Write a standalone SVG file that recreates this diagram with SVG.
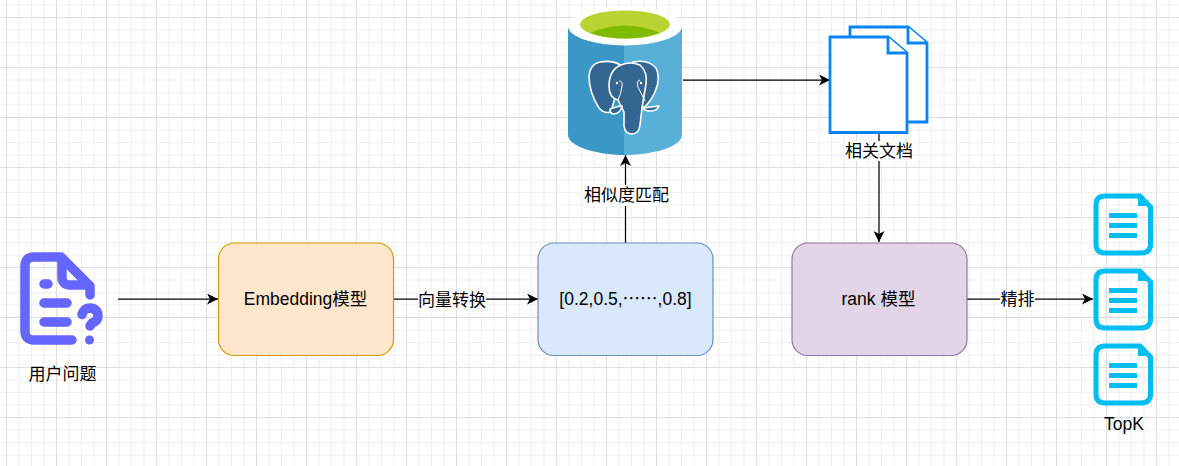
<svg xmlns="http://www.w3.org/2000/svg" width="1179" height="466" viewBox="0 0 1179 466">
<style>
text{font-family:"Liberation Sans","Noto Sans CJK SC",sans-serif;font-size:17px;fill:#000;text-anchor:middle}
.w{font-size:17.500px}
.n{stroke-width:1.200;rx:16px}
.c{fill:none;stroke:#000;stroke-width:1.250}
.lb{fill:#fff}
.el{fill:#336791;stroke:#fff;stroke-width:1.600;stroke-linejoin:round}
.blue{fill:#fff;stroke:#0a84f0;stroke-width:2.800}
.cy{fill:none;stroke:#00bef2;stroke-width:5}
.bar{fill:#00bef2}
</style>
<defs>
<pattern id="g" x="6" y="17" width="50" height="50" patternUnits="userSpaceOnUse">
<path d="M13 0V50M25.500 0V50M38 0V50M0 13H50M0 25.500H50M0 38H50" stroke="#f0f0f0" stroke-width="1.200" fill="none"/>
<path d="M.5 0V50M0 .5H50" stroke="#dedede" stroke-width="1.100" fill="none"/>
</pattern>
<marker id="a" markerWidth="12" markerHeight="11" refX="11" refY="5.500" orient="auto" markerUnits="userSpaceOnUse"><path d="M0 0L11 5.500L0 11L3 5.500Z" fill="#000"/></marker>
</defs>
<rect width="1179" height="466" fill="#fff"/>
<rect width="1179" height="466" fill="url(#g)"/>
<g id="connectors">
<path class="c" marker-end="url(#a)" d="M118 299H218"/>
<path class="c" marker-end="url(#a)" d="M394 299H538"/>
<path class="c" marker-end="url(#a)" d="M625.500 243V155"/>
<path class="c" marker-end="url(#a)" d="M683 80H830"/>
<path class="c" marker-end="url(#a)" d="M879 134V242"/>
<path class="c" marker-end="url(#a)" d="M967 299H1093"/>
</g>
<g id="user-question">
<g fill="none" stroke="#6666ff" stroke-width="9.500" stroke-linecap="round" stroke-linejoin="round">
<path d="M72 340H34Q25 340 25 331V266Q25 257 34 257H61L90 286V295"/>
<path d="M62 258V277Q62 285 70 285H89"/>
<path d="M44 284H48M44 303H67M44 322H67"/>
<path d="M82 314.500Q84 308 90 308Q98 309 98 316Q98 321 92 323L90 326"/>
</g>
<circle cx="89.500" cy="340" r="4.500" fill="#6666ff"/>
<text x="62.500" y="380">用户问题</text>
</g>
<g id="embedding">
<rect class="n" x="218.500" y="243" width="175" height="112.500" fill="#ffe6cc" stroke="#d79b00"/>
<text class="w" x="305.500" y="305">Embedding模型</text>
</g>
<g id="label-vector"><rect class="lb" x="418" y="290" width="68" height="20"/><text x="452" y="306">向量转换</text></g>
<g id="vector">
<rect class="n" x="538" y="243" width="175" height="112.500" fill="#dae8fc" stroke="#6c8ebf"/>
<text class="w" x="625.500" y="305">[0.2,0.5,<tspan style="font-family:'Noto Sans CJK SC',sans-serif">⋯⋯</tspan>,0.8]</text>
</g>
<g id="label-match"><rect class="lb" x="583" y="185" width="87" height="21"/><text x="626.500" y="201">相似度匹配</text></g>
<g id="postgres">
<path d="M568 26V135C568 146 596 155 624 155V26Z" fill="#3b97c6"/>
<path d="M624 26V155C655 155 682 146 682 135V26Z" fill="#58b0d9"/>
<ellipse cx="625" cy="26" rx="57" ry="19.500" fill="#fff"/>
<ellipse cx="625" cy="24.500" rx="45" ry="14" fill="#b8d432"/>
<path d="M590 33Q625 18 660 33Q625 44 590 33Z" fill="#7fba00"/>
<path class="el" d="M600 62C611 60 620 63 623 68L611 112Q604 114 599 108Q589 92 589 76Q590 64 600 62Z"/>
<path class="el" d="M633 62Q648 59 656 68Q661 78 655 92Q650 103 643 108L636 100L640 70Z"/>
<path class="el" d="M621 65Q630 61 640 65Q648 72 646 84Q644 96 642 108L640 125Q639 134 632 134Q625 134 624 126V112L618 100Q609 98 609 86Q609 70 621 65Z"/>
<path class="el" d="M610 109Q618 106 622 106Q621 113 614 114Q610 114 610 109ZM643 108L659 106Q657 111 650 111Q645 111 643 108Z"/>
<path d="M619 81Q623 81 622 86Q621 94 618 100M640 80Q636 81 638 87L645 101" fill="none" stroke="#fff" stroke-width="1"/>
<circle cx="617" cy="83" r="1.200" fill="#fff"/><circle cx="641" cy="83" r="1.200" fill="#fff"/>
</g>
<g id="documents">
<path class="blue" d="M850 37V27H908L927 43V122H908"/>
<path class="blue" d="M908 27V43H927"/>
<path class="blue" d="M830 37H888L907 53V132.500H830Z"/>
<path class="blue" d="M888 37V53H907"/>
<rect class="lb" x="845" y="141" width="68" height="20"/>
<text x="879" y="157">相关文档</text>
</g>
<g id="rank">
<rect class="n" x="792" y="243" width="175" height="112.500" fill="#e1d5e7" stroke="#9673a6"/>
<text class="w" x="878.500" y="305">rank 模型</text>
</g>
<g id="label-rerank"><rect class="lb" x="1000" y="290" width="35" height="20"/><text x="1017.500" y="305">精排</text></g>
<g id="topk">
<g><path class="cy" d="M1105 196H1140L1150.500 207V244Q1150.500 253 1141 253H1105Q1096 253 1096 244V205Q1096 196 1105 196Z"/><path class="bar" d="M1138 194L1153 208V206H1138Z"/><rect class="bar" x="1109" y="213" width="28" height="5"/><rect class="bar" x="1109" y="223" width="28" height="5"/><rect class="bar" x="1109" y="233" width="28" height="5"/></g>
<g><path class="cy" d="M1105 271H1140L1150.500 282V319Q1150.500 328 1141 328H1105Q1096 328 1096 319V280Q1096 271 1105 271Z"/><path class="bar" d="M1138 269L1153 283V281H1138Z"/><rect class="bar" x="1109" y="288" width="28" height="5"/><rect class="bar" x="1109" y="298" width="28" height="5"/><rect class="bar" x="1109" y="308" width="28" height="5"/></g>
<g><path class="cy" d="M1105 346H1140L1150.500 357V394Q1150.500 403 1141 403H1105Q1096 403 1096 394V355Q1096 346 1105 346Z"/><path class="bar" d="M1138 344L1153 358V356H1138Z"/><rect class="bar" x="1109" y="363" width="28" height="5"/><rect class="bar" x="1109" y="373" width="28" height="5"/><rect class="bar" x="1109" y="383" width="28" height="5"/></g>
<text class="w" x="1124" y="430">TopK</text>
</g>
</svg>
